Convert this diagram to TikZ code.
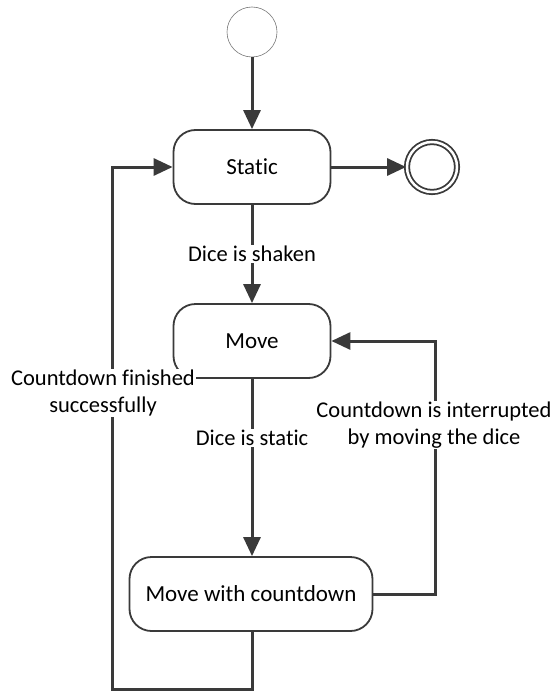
\documentclass[tikz,border=0pt]{standalone}
\usepackage{fontspec}
\setmainfont{Carlito}[Ligatures={NoCommon}]
\usetikzlibrary{arrows.meta}
\definecolor{ln}{HTML}{3A3A3A}
\tikzset{
  state/.style={draw=ln, line width=1.8pt, rounded corners=22pt, fill=white, minimum height=74pt, align=center, font=\fontsize{23}{27}\selectfont, inner sep=0pt},
  conn/.style={draw=ln, line width=3pt, -{Triangle[length=19pt,width=17pt]}},
  lbl/.style={fill=white, align=center, font=\fontsize{22.5}{26.5}\selectfont, inner sep=1pt}
}
\begin{document}
\begin{tikzpicture}[x=1pt,y=-1pt]
\useasboundingbox (0,0) rectangle (555,693);
\node[circle, draw=ln!70, line width=0.6pt, minimum size=50pt, inner sep=0pt] (init) at (252,32) {};
\node[state, minimum width=157pt] (static) at (252,167) {Static};
\node[circle, draw=ln, line width=1.8pt, minimum size=50pt, inner sep=0pt, double=white, double distance=2.5pt] (final) at (432,167) {};
\node[state, minimum width=157pt] (move) at (252,341) {Move};
\node[state, minimum width=243pt] (mwc) at (251,594) {Move with countdown};
\coordinate (bl) at (252,689);
\coordinate (bll) at (112,689);
\coordinate (tl) at (112,167);
\coordinate (rr) at (435,594);
\coordinate (rt) at (435,341);
\draw[conn] (init) -- (static);
\draw[conn] (static) -- (final);
\draw[conn] (static) -- (move);
\draw[conn] (move.south) -- (move.south |- mwc.north);
\draw[conn] (mwc.south -| bl) -- (bl) -- (bll) -- (tl) -- (static.west);
\draw[conn] (mwc.east) -- (rr) -- (rt) -- (move.east);
\node[lbl] (l1) at (252,254) {Dice is shaken};
\node[lbl] (l2) at (252,438) {Dice is static};
\node[lbl] (l3) at (103,393) {Countdown finished\\successfully};
\node[lbl] (l4) at (434,425) {Countdown is interrupted\\by moving the dice};
\end{tikzpicture}
\end{document}
